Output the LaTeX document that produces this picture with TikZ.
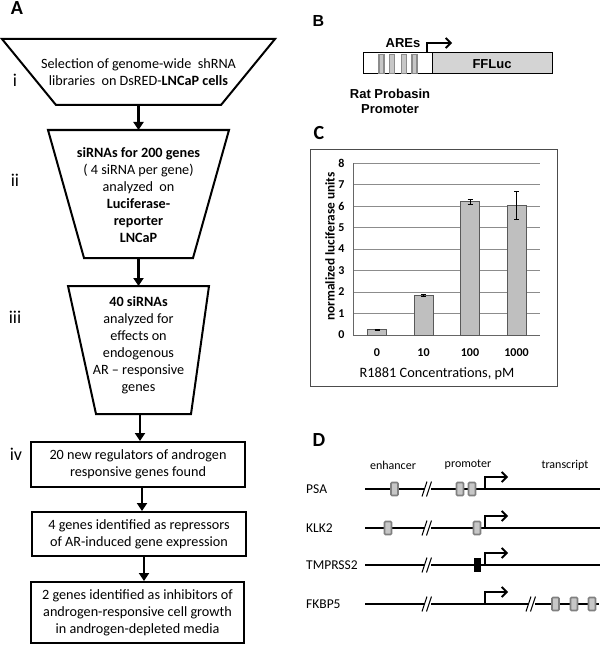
\documentclass[tikz,border=0pt]{standalone}
\usepackage{fontspec}
\setmainfont{Carlito}
\newfontfamily\arialf{Liberation Sans}
\usetikzlibrary{arrows.meta}
\begin{document}
\begin{tikzpicture}[x=1pt,y=-1pt,
  shapeline/.style={line width=2pt, line join=miter},
  farrow/.style={line width=2.8pt,-{Triangle[length=8pt,width=10pt]}},
  ftext/.style={font=\fontsize{14.2}{17}\selectfont, align=center, inner sep=0pt},
  roman/.style={font=\fontsize{18}{20}\selectfont, inner sep=0pt},
  panel/.style={font=\fontsize{20}{20}\selectfont\bfseries, inner sep=0pt},
  btext/.style={font=\arialf\bfseries\fontsize{13}{15}\selectfont, inner sep=0pt, align=center},
  tick/.style={font=\fontsize{12}{14}\selectfont\bfseries, inner sep=0pt},
  bar/.style={fill=black!25, draw=black!65, line width=0.8pt},
  ebar/.style={line width=0.7pt},
  grid/.style={draw=black!45, line width=0.7pt},
  gene/.style={line width=1.4pt},
  glabel/.style={font=\fontsize{13.5}{15}\selectfont, inner sep=0pt, anchor=west},
  hlabel/.style={font=\fontsize{12}{14}\selectfont, inner sep=0pt},
  gbox/.style={fill=black!22, draw=black!50, line width=1.6pt, rounded corners=1pt},
  kbox/.style={fill=black, draw=black, line width=1.6pt},
  bent/.style={line width=1.8pt, -{Straight Barb[length=5pt,width=10pt]}},
  brk/.style={line width=1pt}
]
\useasboundingbox (0,0) rectangle (600,650);

% ---------------- Panel A ----------------
\node[panel] (lA) at (17,8) {A};

% trapezoid i
\draw[shapeline] (2,39) -- (275,39) -- (221,105) -- (56,105) -- cycle;
\coordinate (t1b) at (138.5,105);
\node[ftext] (t1) at (138.5,72) {Selection of genome-wide\ \ shRNA\\libraries\ \ on DsRED-\textbf{LNCaP cells}};
\node[roman] (r1) at (15,80) {i};

% trapezoid ii
\draw[shapeline] (48,130) -- (229,130) -- (193,258) -- (84,258) -- cycle;
\coordinate (t2t) at (138.5,130);
\coordinate (t2b) at (138.5,258);
\node[ftext] (t2) at (138.5,195) {\textbf{siRNAs for 200 genes}\\( 4 siRNA per gene)\\analyzed\ \ on\\\textbf{Luciferase-}\\\textbf{reporter}\\\textbf{LNCaP}};
\node[roman] (r2) at (15,180) {ii};

% trapezoid iii
\draw[shapeline] (68,286) -- (209,286) -- (191,414) -- (96,414) -- cycle;
\coordinate (t3t) at (138.5,286);
\coordinate (t3b) at (140,414);
\node[ftext] (t3) at (138.5,345) {\textbf{40 siRNAs}\\analyzed for\\effects on\\endogenous\\AR -- responsive\\genes};
\node[roman] (r3) at (15,317) {iii};

% boxes
\node[draw, shapeline, minimum width=214pt, minimum height=45pt, ftext] (b1) at (138,464.5) {20 new regulators of androgen\\responsive genes found};
\node[roman] (r4) at (16,454) {iv};
\node[draw, shapeline, minimum width=214pt, minimum height=44pt, ftext] (b2) at (139,534) {4 genes identified as repressors\\of AR-induced gene expression};
\node[draw, shapeline, minimum width=213pt, minimum height=61pt, ftext] (b3) at (137.5,612.5) {2 genes identified as inhibitors of\\androgen-responsive cell growth\\in androgen-depleted media};

\draw[farrow] (t1b) -- (t2t);
\draw[farrow] (t2b) -- (t3t);
\draw[farrow] (t3b) -- (b1.north -| t3b);
\draw[farrow] (b1.south -| 142,0) -- (b2.north -| 142,0);
\draw[farrow] (b2.south -| 144,0) -- (b3.north -| 144,0);

% ---------------- Panel B ----------------
\node[panel, font=\arialf\bfseries\fontsize{16}{18}\selectfont] (lB) at (318.5,20.5) {B};
\node[draw, line width=1pt, fill=white, minimum width=69pt, minimum height=21pt, inner sep=0pt] (prom) at (397.5,63.5) {};
\node[draw, line width=1pt, fill=black!17, minimum width=120pt, minimum height=21pt, inner sep=0pt] (ffluc) at (492,63.5) {};
\node[btext] (fft) at (492,64) {FFLuc};
\foreach \xx/\nm in {381.5/a1,392/a2,404/a3,414.5/a4}{
  \node[draw=black!45, fill=black!22, line width=1.6pt, minimum width=5pt, minimum height=19pt, inner sep=0pt] (\nm) at (\xx,64) {};
}
\node[btext] (ares) at (403,43) {AREs};
\coordinate (tssB) at (427,53);
\coordinate (tssBend) at (452,43);
\draw[bent] (tssB) |- (tssBend);
\node[btext] (rpp) at (390,101.5) {Rat Probasin\\Promoter};

% ---------------- Panel C ----------------
\node[panel] (lC) at (319,133) {C};
\draw[line width=1pt, draw=black!70] (310.5,149) rectangle (557,386);
\foreach \k in {1,...,8}{
  \draw[grid] (353,335-21.5*\k) -- (540,335-21.5*\k);
}
\foreach \k in {0,...,8}{
  \node[tick] (y\k) at (341.5,335-21.5*\k) {\k};
}
\draw[line width=0.8pt, draw=black!60] (353,163) -- (353,335) -- (540,335);
% bars
\foreach \xc/\h/\e/\lab/\nm in {377/0.25/0.02/0/c0, 423.5/1.85/0.03/10/c1, 470/6.2/0.1/100/c2, 516.5/6.05/0.65/1000/c3}{
  \draw[bar] (\xc-9.5,335) rectangle (\xc+9.5,335-21.5*\h);
  \draw[ebar] (\xc,335-21.5*\h+21.5*\e) -- (\xc,335-21.5*\h-21.5*\e)
     (\xc-2.5,335-21.5*\h+21.5*\e) -- (\xc+2.5,335-21.5*\h+21.5*\e)
     (\xc-2.5,335-21.5*\h-21.5*\e) -- (\xc+2.5,335-21.5*\h-21.5*\e);
  \node[tick] (\nm) at (\xc,353) {\lab};
}
\node[font=\fontsize{14.3}{15}\selectfont, inner sep=0pt] (xt) at (437,374) {R1881 Concentrations, pM};
\node[font=\fontsize{13.3}{15}\selectfont\bfseries, inner sep=0pt, rotate=90] (yt) at (330,246.5) {normalized luciferase units};

% ---------------- Panel D ----------------
\node[panel] (lD) at (319,440) {D};
\node[hlabel] (he) at (393,465) {enhancer};
\node[hlabel] (hp) at (468,465) {promoter};
\node[hlabel] (ht) at (565,465) {transcript};

\foreach \yy/\nm/\lab in {489/PSA/PSA, 528/KLK/KLK2, 565/TMP/TMPRSS2, 604/FKB/FKBP5}{
  \node[glabel] (n\nm) at (306,\yy) {\lab};
  \coordinate (s\nm) at (365,\yy);
  \coordinate (e\nm) at (600,\yy);
  \draw[gene] (s\nm) -- (e\nm);
  % break
  \fill[white] (424,\yy-2) rectangle (431,\yy+2);
  \draw[brk] (422,\yy+7.5) -- (427,\yy-7.5) (426.5,\yy+7.5) -- (431.5,\yy-7.5);
  % TSS
  \coordinate (tss\nm) at (485,\yy);
  \coordinate (tsse\nm) at (508,\yy-12);
  \draw[bent] (tss\nm) |- (tsse\nm);
}
% second break FKBP5
\fill[white] (528,602) rectangle (535,606);
\draw[brk] (526,611.5) -- (531,596.5) (530.5,611.5) -- (535.5,596.5);
\fill[white] (599,600) rectangle (600,608);

% elements
\node[gbox, minimum width=7pt, minimum height=13pt, inner sep=0pt] (pe1) at (394.5,489) {};
\node[gbox, minimum width=7pt, minimum height=13pt, inner sep=0pt] (pp1) at (460,489) {};
\node[gbox, minimum width=7pt, minimum height=13pt, inner sep=0pt] (pp2) at (472,489) {};
\node[gbox, minimum width=7pt, minimum height=13pt, inner sep=0pt] (ke1) at (388,528) {};
\node[gbox, minimum width=7pt, minimum height=13pt, inner sep=0pt] (kp1) at (477,528) {};
\node[kbox, minimum width=6pt, minimum height=13pt, inner sep=0pt] (tp1) at (477.5,565) {};
\node[gbox, minimum width=7pt, minimum height=13pt, inner sep=0pt] (ft1) at (555.5,604) {};
\node[gbox, minimum width=7pt, minimum height=13pt, inner sep=0pt] (ft2) at (574,604) {};
\node[gbox, minimum width=7pt, minimum height=13pt, inner sep=0pt] (ft3) at (592,604) {};
\end{tikzpicture}
\end{document}
